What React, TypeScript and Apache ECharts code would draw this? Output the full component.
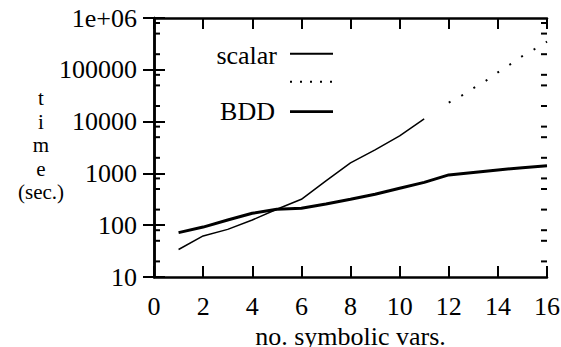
import React, { useEffect, useRef } from "react";
import * as echarts from "echarts";

// ---- data ----
const scalarX = [1, 2, 3, 4, 5, 6, 7, 8, 9, 10, 11];
const scalarY = [34, 62, 83, 126, 203, 316, 720, 1600, 2850, 5300, 11300];

const extrapX = [12, 12.5, 13, 13.5, 14, 14.5, 15, 15.5, 16];
const extrapY = [23200, 31200, 44000, 60800, 89500, 127600, 184500, 252000, 350000];

const bddX = [1, 2, 3, 4, 5, 6, 7, 8, 9, 10, 11, 12, 13, 14, 15, 16];
const bddY = [72, 92, 126, 170, 203, 212, 257, 316, 395, 517, 670, 935, 1045, 1165, 1290, 1410];

const xTicks = { min: 0, max: 16, interval: 2 };
const yRange = { min: 10, max: 1000000 };
const yMinorTicks = [
  20, 50, 80, 200, 500, 800, 2000, 5000, 8000, 20000, 50000, 80000, 200000, 500000, 800000,
];

const legendNames = ["scalar", "", "BDD"];
const yTitleRows = ["t", "i", "m", "e", "(sec.)"];
const xTitle = "no. symbolic vars.";

const FONT = "Liberation Serif";

export default function App() {
  const ref = useRef<HTMLDivElement>(null);

  useEffect(() => {
    if (!ref.current) return;
    const chart = echarts.init(ref.current, undefined, { renderer: "svg" });

    const axisLine = { show: true, lineStyle: { color: "#000", width: 2.5 } };
    const tickStyle = { color: "#000", width: 2 };
    const lbl = { color: "#000", fontFamily: FONT, fontSize: 26 };

    const txt = (text: string, x: number, y: number, align: string, extra: any = {}) => ({
      type: "text",
      x,
      y,
      style: {
        text,
        fontFamily: FONT,
        fontSize: 26,
        fill: "#000",
        textAlign: align,
        textVerticalAlign: "middle",
        ...extra,
      },
    });

    chart.setOption({
      animation: false,
      backgroundColor: "#fff",
      grid: {
        left: 154,
        right: 14,
        top: 18,
        bottom: 70,
        containLabel: false,
        outerBoundsMode: "none",
      },
      xAxis: [
        {
          type: "value",
          position: "bottom",
          min: xTicks.min,
          max: xTicks.max,
          interval: xTicks.interval,
          axisLine,
          axisTick: { show: true, inside: true, length: 11, lineStyle: tickStyle },
          axisLabel: { ...lbl, margin: 16 },
          splitLine: { show: false },
          name: xTitle,
          nameLocation: "middle",
          nameGap: 30,
          nameTextStyle: { ...lbl },
        },
        {
          type: "value",
          position: "top",
          min: xTicks.min,
          max: xTicks.max,
          interval: xTicks.interval,
          axisLine,
          axisTick: { show: true, inside: true, length: 11, lineStyle: tickStyle },
          axisLabel: { show: false },
          splitLine: { show: false },
        },
      ],
      yAxis: [
        {
          type: "log",
          logBase: 10,
          position: "left",
          min: yRange.min,
          max: yRange.max,
          splitNumber: 5,
          axisLine,
          axisTick: { show: true, inside: true, length: 11, lineStyle: tickStyle },
          axisLabel: {
            ...lbl,
            margin: 17,
            formatter: (v: number) => {
              const r = Math.round(v);
              return r >= 1000000 ? "1e+06" : String(r);
            },
          },
          splitLine: { show: false },
        },
        {
          type: "log",
          logBase: 10,
          position: "right",
          min: yRange.min,
          max: yRange.max,
          splitNumber: 5,
          axisLine,
          axisTick: { show: true, inside: true, length: 11, lineStyle: tickStyle },
          axisLabel: { show: false },
          splitLine: { show: false },
        },
      ],
      series: [
        {
          name: "scalar",
          type: "line",
          xAxisIndex: 0,
          yAxisIndex: 0,
          data: scalarX.map((x, i) => [x, scalarY[i]]),
          symbol: "none",
          lineStyle: { color: "#000", width: 1.5 },
        },
        {
          name: "extrapolated",
          type: "line",
          xAxisIndex: 0,
          yAxisIndex: 0,
          data: extrapX.map((x, i) => [x, extrapY[i]]),
          symbol: "none",
          lineStyle: { color: "#000", width: 2, type: [2, 12.3], cap: "butt" },
        },
        {
          name: "BDD",
          type: "line",
          xAxisIndex: 0,
          yAxisIndex: 0,
          data: bddX.map((x, i) => [x, bddY[i]]),
          symbol: "none",
          lineStyle: { color: "#000", width: 3 },
        },
        {
          name: "minorTicks",
          type: "custom",
          xAxisIndex: 0,
          yAxisIndex: 0,
          silent: true,
          clip: false,
          data: yMinorTicks.map((v) => [xTicks.min, v]),
          encode: { x: 0, y: 1 },
          renderItem: (params: any, api: any) => {
            const v = api.value(1);
            const pl = api.coord([xTicks.min, v]);
            const pr = api.coord([xTicks.max, v]);
            return {
              type: "group",
              children: [
                {
                  type: "line",
                  shape: { x1: pl[0], y1: pl[1], x2: pl[0] + 6, y2: pl[1] },
                  style: { stroke: "#000", lineWidth: 2 },
                },
                {
                  type: "line",
                  shape: { x1: pr[0] - 6, y1: pr[1], x2: pr[0], y2: pr[1] },
                  style: { stroke: "#000", lineWidth: 2 },
                },
              ],
            };
          },
        },
      ],
      graphic: [
        txt(legendNames[0], 277, 55, "right"),
        {
          type: "line",
          shape: { x1: 290, y1: 53.7, x2: 333, y2: 53.7 },
          style: { stroke: "#000", lineWidth: 2 },
        },
        {
          type: "line",
          shape: { x1: 290, y1: 81.7, x2: 334, y2: 81.7 },
          style: { stroke: "#000", lineWidth: 2, lineDash: [2, 8] },
        },
        txt(legendNames[2], 275, 111, "right"),
        {
          type: "line",
          shape: { x1: 290, y1: 111.7, x2: 333, y2: 111.7 },
          style: { stroke: "#000", lineWidth: 2.7 },
        },
        txt(yTitleRows.join("\n"), 41, 145, "center", { fontSize: 21, lineHeight: 23.5 }),
      ],
    });

    return () => chart.dispose();
  }, []);

  return (
    <div style={{ position: "absolute", left: 0, top: 0 }}>
      <div ref={ref} style={{ width: 561, height: 347 }} />
    </div>
  );
}
